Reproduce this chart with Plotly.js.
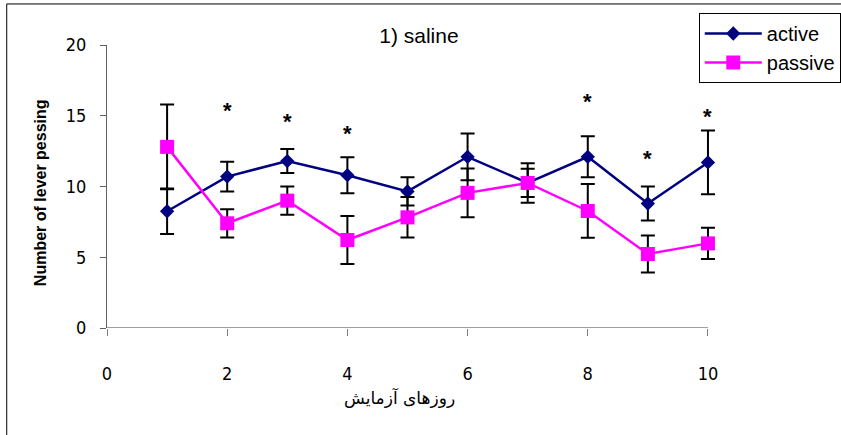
<!DOCTYPE html>
<html>
<head>
<meta charset="utf-8">
<script src="https://cdn.plot.ly/plotly-3.0.1.min.js"></script>
<style>html,body{margin:0;padding:0;background:#fff;}#chart{width:841px;height:435px;}</style>
</head>
<body>
<div id="chart"></div>
<script>
const days = [1, 2, 3, 4, 5, 6, 7, 8, 9, 10];
const active = [8.25, 10.7, 11.8, 10.8, 9.65, 12.1, 10.25, 12.1, 8.8, 11.7];
const activeErr = [1.6, 1.05, 0.85, 1.27, 1.0, 1.65, 1.0, 1.45, 1.2, 2.25];
const passive = [12.8, 7.4, 9.0, 6.22, 7.82, 9.55, 10.25, 8.27, 5.23, 5.98];
const passiveErr = [3.0, 1.0, 1.0, 1.7, 1.43, 1.73, 1.4, 1.9, 1.3, 1.1];
const sigDays = [2, 3, 4, 8, 9, 10];
const sigHeights = [15.8, 15.0, 14.2, 16.45, 12.4, 15.35];
const xTicks = [0, 2, 4, 6, 8, 10];
const yTicks = [0, 5, 10, 15, 20];
const xMax = 10;

const narrow = 'DejaVu Sans Condensed, Liberation Sans Narrow, Arial Narrow, sans-serif';
const sans = 'Liberation Sans, Arial, sans-serif';

const traces = [
  {
    x: days, y: active, name: 'active', type: 'scatter', mode: 'lines+markers',
    line: {color: '#000080', width: 2.5},
    marker: {symbol: 'diamond', size: 11, color: '#000080'},
    error_y: {type: 'data', array: activeErr, visible: true, color: '#000000', thickness: 2, width: 7},
    cliponaxis: false
  },
  {
    x: days, y: passive, name: 'passive', type: 'scatter', mode: 'lines+markers',
    line: {color: '#FF00FF', width: 2.5},
    marker: {symbol: 'square', size: 14, color: '#FF00FF'},
    error_y: {type: 'data', array: passiveErr, visible: true, color: '#000000', thickness: 2, width: 7},
    cliponaxis: false
  }
];

const annotations = sigDays.map((d, i) => ({
  x: d, y: sigHeights[i], xref: 'x', yref: 'y', text: '<b>*</b>', showarrow: false,
  xanchor: 'center', yanchor: 'middle', yshift: -6,
  font: {family: sans, size: 22, color: '#000000'}
}));
annotations.push({
  xref: 'paper', yref: 'paper', x: -0.108, y: 0.477, xanchor: 'center', yanchor: 'middle',
  text: '<b>Number of lever pessing</b>', textangle: -90, showarrow: false,
  font: {family: sans, size: 16, color: '#000000'}
});
annotations.push({
  xref: 'paper', yref: 'paper', x: 0.472, y: -0.247, xanchor: 'center', yanchor: 'middle',
  text: 'روزهای آزمایش', showarrow: false,
  font: {family: 'DejaVu Sans, sans-serif', size: 17, color: '#000000'}
});

const layout = {
  width: 841, height: 435, autosize: false,
  margin: {l: 107, r: 115, t: 45, b: 107, pad: 0, autoexpand: false},
  paper_bgcolor: '#ffffff', plot_bgcolor: '#ffffff',
  title: {text: '1) saline', font: {family: sans, size: 21, color: '#000000'},
          x: 0.504, xref: 'paper', xanchor: 'center', y: 0.918, yanchor: 'middle'},
  xaxis: {
    range: [0, 10.3], tickvals: xTicks, ticktext: xTicks.map(String),
    ticks: 'outside', ticklen: 7, tickcolor: '#808080', tickwidth: 1,
    showline: false, showgrid: false, zeroline: false,
    tickfont: {family: narrow, size: 18, color: '#000000'},
    ticklabelstandoff: 22
  },
  yaxis: {
    range: [0, 20], tickvals: yTicks,
    ticks: 'outside', ticklen: 6, tickcolor: '#606060', tickwidth: 1,
    showline: true, linecolor: '#606060', linewidth: 1,
    showgrid: false, zeroline: false,
    tickfont: {family: narrow, size: 18, color: '#000000'},
    ticklabelstandoff: 10
  },
  legend: {
    x: 0.956, y: 1.113, xanchor: 'left', yanchor: 'top',
    bordercolor: '#000000', borderwidth: 1, bgcolor: '#ffffff',
    itemwidth: 57,
    font: {family: sans, size: 20, color: '#000000'}
  },
  showlegend: true,
  annotations: annotations,
  shapes: [
    {type: 'rect', xref: 'paper', yref: 'paper', x0: -0.162, x1: 1.5, y0: -0.5, y1: 1.145,
     line: {color: '#000000', width: 1}, fillcolor: 'rgba(0,0,0,0)', layer: 'below'},
    {type: 'line', xref: 'x', yref: 'y', x0: 0, x1: xMax, y0: 0, y1: 0,
     line: {color: '#808080', width: 1.5}, layer: 'below'}
  ]
};

Plotly.newPlot('chart', traces, layout, {displayModeBar: false, staticPlot: true});
</script>
</body>
</html>
